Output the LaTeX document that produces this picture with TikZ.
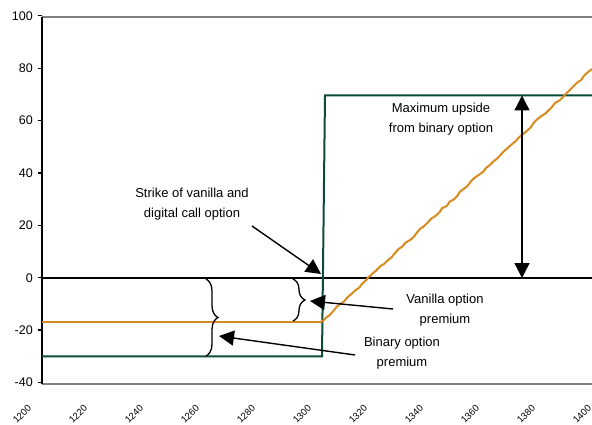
\documentclass[tikz,border=0pt]{standalone}
\usepackage{fontspec}
\setmainfont{Liberation Sans}
\usetikzlibrary{arrows.meta,decorations.pathreplacing,decorations.pathmorphing}
\definecolor{orng}{RGB}{216,138,30}
\definecolor{grn}{RGB}{10,75,60}
\definecolor{gry}{RGB}{128,128,128}
\begin{document}
\begin{tikzpicture}[x=1pt,y=-1pt,
  note/.style={align=center,font=\fontsize{13}{20}\selectfont,inner sep=0pt},
  ylab/.style={anchor=east,font=\fontsize{12.5}{14}\selectfont,inner sep=0pt},
  xlab/.style={rotate=45,font=\fontsize{9.5}{11}\selectfont,inner sep=0pt},
  arr/.style={line width=1.4pt,-{Triangle[length=15pt,width=15pt]}},
  darr/.style={line width=1.4pt,{Triangle[length=15pt,width=15pt]}-{Triangle[length=15pt,width=15pt]}},
  brc/.style={line width=1.3pt,decorate,decoration={brace,amplitude=12pt}},
  border/.style={gry,line width=2pt},
  axisline/.style={black,line width=2pt}]
\useasboundingbox (0,0) rectangle (592,425);
\pgfmathsetseed{7}
% frame
\draw[border] (42,17) -- (592,17);
\draw[border] (42,384) -- (592,384);
% zero line
\coordinate (z0) at (42,278);
\coordinate (z1) at (592,278);
\draw[axisline] (z0) -- (z1);
% y axis
\coordinate (ya) at (42,17);
\coordinate (yb) at (42,384);
\draw[axisline] (ya) -- (yb);
\foreach \u in {-40,-20,...,100}{
  \pgfmathsetmacro\yy{277.7-2.619*\u}
  \draw[black,line width=1.2pt] (37.5,\yy) -- (42,\yy);
  \node[ylab] (yl\u) at (33,\yy) {\u};
}
% x labels
\foreach \k in {0,...,10}{
  \pgfmathtruncatemacro\lab{1200+20*\k}
  \node[xlab] (xl\k) at (22+56*\k,414) {\lab};
}
% payoff lines
\draw[grn,line width=2pt,line join=miter] (42,356.3) -- (322,356.3) -- (325,95.5) -- (592,95.5);
\draw[orng,line width=2pt] (42,321.7) -- (322,321.7);
\draw[orng,line width=2pt,line join=round,decorate,decoration={random steps,segment length=5pt,amplitude=0.8pt}] (322,321.7) -- (592,69);
% braces
\draw[brc] (206,279) -- (206,356);
\draw[brc] (293,279) -- (293,321);
% notes
\node[note] (strike) at (192,204) {Strike of vanilla and\\digital call option};
\node[note] (maxup) at (441,119) {Maximum upside\\from binary option};
\node[note] (vanilla) at (445,310) {Vanilla option\\premium};
\node[note] (binary) at (402,353) {Binary option\\premium};
% arrows
\coordinate (s0) at (252,226);
\coordinate (s1) at (321,274);
\draw[arr] (s0) -- (s1);
\coordinate (v0) at (393,309);
\coordinate (v1) at (310,301);
\draw[arr] (v0) -- (v1);
\coordinate (b0) at (355,355);
\coordinate (b1) at (219,336);
\draw[arr] (b0) -- (b1);
\coordinate (m0) at (522,95.5);
\coordinate (m1) at (522,278);
\draw[darr] (m0) -- (m1);
\end{tikzpicture}
\end{document}
